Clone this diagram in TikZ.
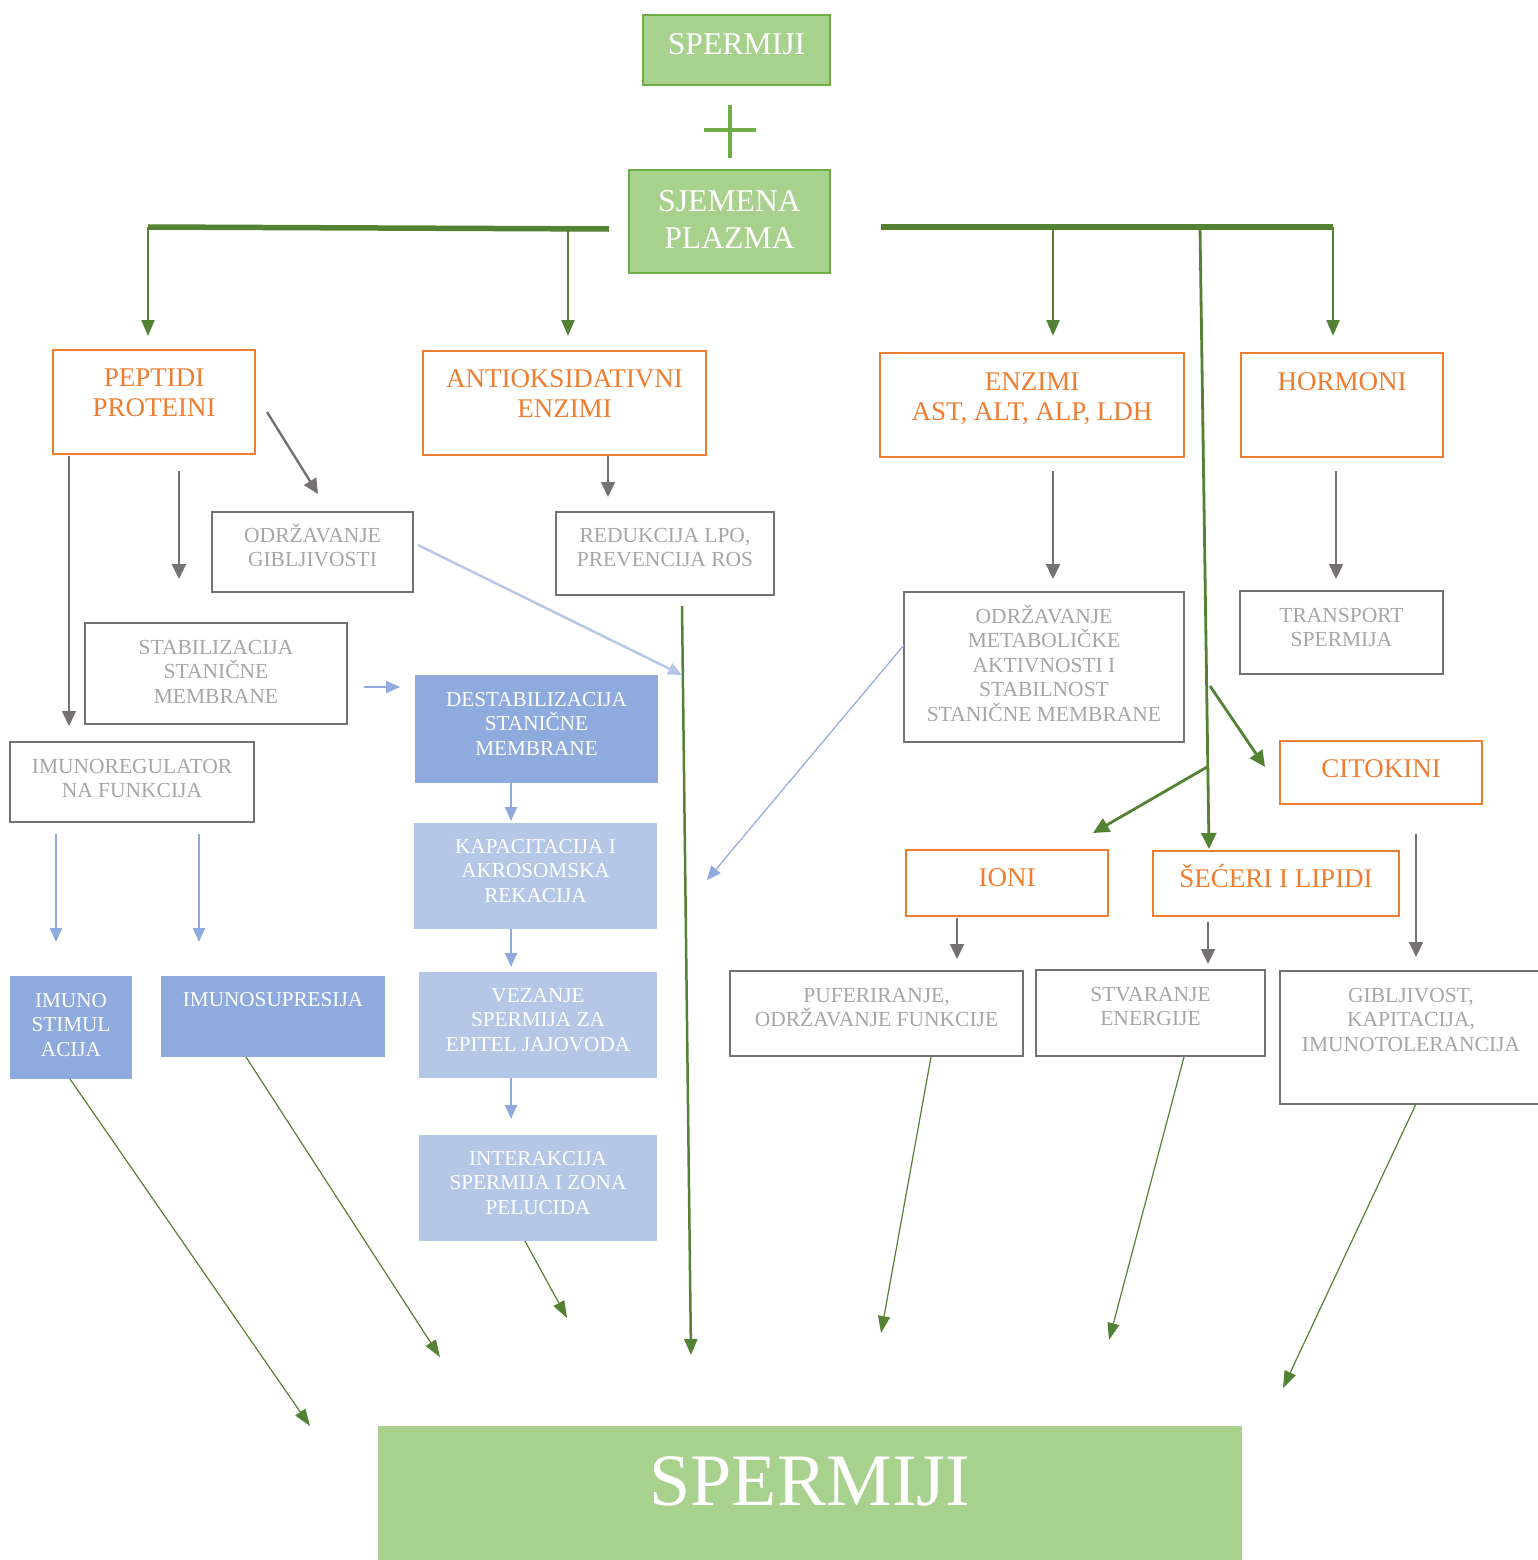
\documentclass[tikz,border=0pt]{standalone}
\usepackage{fontspec}
\setmainfont{Liberation Serif}
\usetikzlibrary{arrows.meta}
\definecolor{lgreen}{HTML}{A9D18E}
\definecolor{mgreen}{HTML}{70AD47}
\definecolor{dgreen}{HTML}{548235}
\definecolor{orng}{HTML}{ED7D31}
\definecolor{gbord}{HTML}{767171}
\definecolor{gtext}{HTML}{A6A6A6}
\definecolor{blueA}{HTML}{8FAADC}
\definecolor{blueB}{HTML}{B4C7E7}
\newcommand{\mybx}[4]{\parbox[c][#1pt][t]{#2pt}{\centering\rule{0pt}{#3pt}#4\par}}
\tikzset{
 basebox/.style={inner sep=0pt, outer sep=0pt, anchor=north west},
 obox/.style={basebox, draw=orng, line width=2.6pt, text=orng, font=\fontsize{27}{30.7}\selectfont},
 gbox/.style={basebox, draw=gbord, line width=2.6pt, text=gtext, font=\fontsize{21.5}{24.5}\selectfont},
 bboxA/.style={basebox, fill=blueA, text=white, font=\fontsize{21.2}{24.5}\selectfont},
 bboxB/.style={basebox, fill=blueB, text=white, font=\fontsize{21.2}{24.5}\selectfont},
 grbox/.style={basebox, fill=lgreen, draw=mgreen, line width=1.2pt, text=white, font=\fontsize{31.7}{37}\selectfont},
 gar/.style={draw=gbord, line width=2.4pt, -{Triangle[length=15pt,width=14pt]}},
 blar/.style={draw=blueA, line width=2pt, -{Triangle[length=14pt,width=12pt]}},
 gtop/.style={draw=dgreen, line width=2.2pt, -{Triangle[length=16pt,width=13pt]}},
 gmid/.style={draw=dgreen, line width=2.8pt, -{Triangle[length=16pt,width=15pt]}},
 gthin/.style={draw=dgreen, line width=1.2pt, -{Triangle[length=17pt,width=12pt]}},
 gbar/.style={draw=dgreen, line width=5.5pt},
}
\begin{document}
\begin{tikzpicture}[x=1pt,y=-1pt]
\useasboundingbox[fill=white] (0,0) rectangle (1538,1560);

% green boxes
\node[grbox] (sp1) at (643,15) {\mybx{70}{187}{40}{SPERMIJI}};
\node[grbox] (sjp) at (629,170) {\mybx{103}{201}{41}{SJEMENA\\PLAZMA}};
\node[basebox, fill=lgreen, text=white, font=\fontsize{74}{80}\selectfont] (sp2) at (378,1426) {\mybx{134}{864}{79}{SPERMIJI}};

% plus sign
\draw[mgreen, line width=4pt] (730,105) -- (730,158) (704,130) -- (756,130);

% orange boxes
\node[obox] (pep) at (53,350) {\mybx{104}{202}{36}{PEPTIDI\\PROTEINI}};
\node[obox] (ant) at (423,351) {\mybx{104}{283}{36}{ANTIOKSIDATIVNI\\ENZIMI}};
\node[obox] (enz) at (880,353) {\mybx{104}{304}{37}{ENZIMI\\AST, ALT, ALP, LDH}};
\node[obox] (hor) at (1241,353) {\mybx{104}{202}{37}{HORMONI}};
\node[obox] (cit) at (1280,741) {\mybx{63}{202}{36}{CITOKINI}};
\node[obox] (ion) at (906,850) {\mybx{66}{202}{36}{IONI}};
\node[obox] (sec) at (1153,851) {\mybx{65}{246}{36}{ŠEĆERI I LIPIDI}};

% grey boxes
\node[gbox] (odg) at (212,512) {\mybx{80}{201}{30}{ODRŽAVANJE\\GIBLJIVOSTI}};
\node[gbox] (red) at (556,512) {\mybx{83}{218}{30}{REDUKCIJA LPO,\\PREVENCIJA ROS}};
\node[gbox] (sta) at (85,623) {\mybx{101}{262}{31}{STABILIZACIJA\\STANIČNE\\MEMBRANE}};
\node[gbox] (imr) at (10,742) {\mybx{80}{244}{31}{IMUNOREGULATOR\\NA FUNKCIJA}};
\node[gbox] (odm) at (904,592) {\mybx{150}{280}{31}{ODRŽAVANJE\\METABOLIČKE\\AKTIVNOSTI I\\STABILNOST\\STANIČNE MEMBRANE}};
\node[gbox] (tra) at (1240,591) {\mybx{83}{203}{31}{TRANSPORT\\SPERMIJA}};
\node[gbox] (puf) at (730,971) {\mybx{85}{293}{31}{PUFERIRANJE,\\ODRŽAVANJE FUNKCIJE}};
\node[gbox] (stv) at (1036,970) {\mybx{86}{229}{31}{STVARANJE\\ENERGIJE}};
\node[gbox] (gib) at (1280,971) {\mybx{133}{262}{31}{GIBLJIVOST,\\KAPITACIJA,\\IMUNOTOLERANCIJA}};

% blue boxes
\node[bboxA] (des) at (415,675) {\mybx{108}{243}{31}{DESTABILIZACIJA\\STANIČNE\\MEMBRANE}};
\node[bboxB] (kap) at (414,823) {\mybx{106}{243}{30}{KAPACITACIJA I\\AKROSOMSKA\\REKACIJA}};
\node[bboxB] (vez) at (419,972) {\mybx{106}{238}{30}{VEZANJE\\SPERMIJA ZA\\EPITEL JAJOVODA}};
\node[bboxB] (int) at (419,1135) {\mybx{106}{238}{30}{INTERAKCIJA\\SPERMIJA I ZONA\\PELUCIDA}};
\node[bboxA] (ims) at (10,976) {\mybx{103}{122}{31}{IMUNO\\STIMUL\\ACIJA}};
\node[bboxA] (isp) at (161,976) {\mybx{81}{224}{30}{IMUNOSUPRESIJA}};

% coordinates for connector ends
\coordinate (bl1) at (148,227);
\coordinate (bl2) at (609,229);
\coordinate (bl3) at (568,228.6);
\coordinate (br1) at (881,227);
\coordinate (br2) at (1333,227);
\coordinate (br3) at (1053,227);
\coordinate (br4) at (1200,227);
\coordinate (tpep) at (148,336);
\coordinate (tant) at (568,336);
\coordinate (tenz) at (1053,336);
\coordinate (thor) at (1333,336);
\coordinate (tsec) at (1209,849);
\coordinate (c1s) at (1210,686);
\coordinate (c1e) at (1265,767);
\coordinate (c2s) at (1207,767);
\coordinate (c2e) at (1093,833);

% green bars and top arrows
\draw[gbar] (bl1) -- (bl2);
\draw[gbar] (br1) -- (br2);
\draw[gtop] (bl1) -- (tpep);
\draw[gtop] (bl3) -- (tant);
\draw[gtop] (br3) -- (tenz);
\draw[gtop] (br2) -- (thor);
\draw[gmid] (br4) -- (tsec);
\draw[gmid] (c1s) -- (c1e);
\draw[gmid] (c2s) -- (c2e);

% grey arrows
\coordinate (p1s) at (69,456); \coordinate (p1e) at (69,726);
\coordinate (p2s) at (179,471); \coordinate (p2e) at (179,579);
\coordinate (p3s) at (267,412); \coordinate (p3e) at (318,494);
\coordinate (a1s) at (608,456); \coordinate (a1e) at (608,497);
\coordinate (e1s) at (1053,471); \coordinate (e1e) at (1053,579);
\coordinate (h1s) at (1336,471); \coordinate (h1e) at (1336,579);
\coordinate (i1s) at (957,918); \coordinate (i1e) at (957,959);
\coordinate (s1s) at (1208,922); \coordinate (s1e) at (1208,964);
\coordinate (k1s) at (1416,834); \coordinate (k1e) at (1416,957);
\draw[gar, line width=1.4pt] (p1s) -- (p1e);
\draw[gar] (p2s) -- (p2e);
\draw[gar] (p3s) -- (p3e);
\draw[gar, line width=1.6pt] (a1s) -- (a1e);
\draw[gar] (e1s) -- (e1e);
\draw[gar] (h1s) -- (h1e);
\draw[gar, line width=1.6pt] (i1s) -- (i1e);
\draw[gar, line width=1.6pt] (s1s) -- (s1e);
\draw[gar, line width=1.6pt] (k1s) -- (k1e);

% blue arrows
\coordinate (b1s) at (364,687); \coordinate (b1e) at (400,687);
\coordinate (b2s) at (56,834); \coordinate (b2e) at (56,942);
\coordinate (b3s) at (199,834); \coordinate (b3e) at (199,942);
\coordinate (b4s) at (511,783); \coordinate (b4e) at (511,821);
\coordinate (b5s) at (511,929); \coordinate (b5e) at (511,967);
\coordinate (b6s) at (511,1078); \coordinate (b6e) at (511,1119);
\coordinate (b7s) at (904,645); \coordinate (b7e) at (707,880);
\coordinate (b8s) at (418,545); \coordinate (b8e) at (682,675);
\draw[blar] (b1s) -- (b1e);
\draw[blar] (b2s) -- (b2e);
\draw[blar] (b3s) -- (b3e);
\draw[blar] (b4s) -- (b4e);
\draw[blar] (b5s) -- (b5e);
\draw[blar] (b6s) -- (b6e);
\draw[blar, line width=1.2pt] (b7s) -- (b7e);
\draw[blar, draw=blueB, line width=2.4pt] (b8s) -- (b8e);

% green arrows to bottom
\coordinate (g0s) at (682,606); \coordinate (g0e) at (691,1355);
\coordinate (g1s) at (70,1079); \coordinate (g1e) at (310,1426);
\coordinate (g2s) at (246,1057); \coordinate (g2e) at (440,1357);
\coordinate (g3s) at (525,1241); \coordinate (g3e) at (567,1318);
\coordinate (g4s) at (931,1057); \coordinate (g4e) at (881,1333);
\coordinate (g5s) at (1184,1057); \coordinate (g5e) at (1109,1340);
\coordinate (g6s) at (1416,1104); \coordinate (g6e) at (1283,1388);
\draw[gtop, line width=2.5pt] (g0s) -- (g0e);
\draw[gthin] (g1s) -- (g1e);
\draw[gthin] (g2s) -- (g2e);
\draw[gthin] (g3s) -- (g3e);
\draw[gthin] (g4s) -- (g4e);
\draw[gthin] (g5s) -- (g5e);
\draw[gthin] (g6s) -- (g6e);
\end{tikzpicture}
\end{document}
